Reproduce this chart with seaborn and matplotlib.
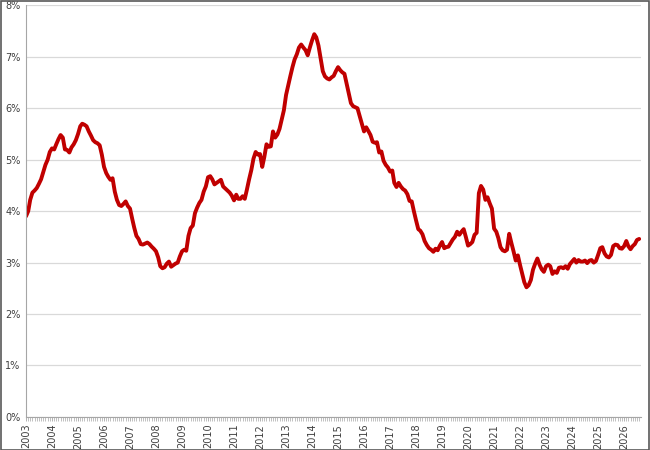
"""Monthly rate, 2003 - 2026, drawn as one thick red line."""

import pandas as pd
import matplotlib
matplotlib.use("Agg")
import matplotlib.pyplot as plt
import matplotlib.dates as mdates
from matplotlib.ticker import FuncFormatter, MultipleLocator
import seaborn as sns

# Monthly values (%)
v2003 = [3.90, 4.00, 4.22, 4.36, 4.40, 4.45, 4.53, 4.62, 4.76, 4.90, 5.00, 5.15]
v2004 = [5.22, 5.20, 5.30, 5.40, 5.48, 5.43, 5.20, 5.19, 5.14, 5.24, 5.30, 5.38]
v2005 = [5.50, 5.65, 5.70, 5.68, 5.65, 5.55, 5.47, 5.38, 5.34, 5.32, 5.28, 5.10]
v2006 = [4.86, 4.74, 4.67, 4.61, 4.64, 4.38, 4.22, 4.12, 4.10, 4.14, 4.19, 4.10]
v2007 = [4.05, 3.85, 3.68, 3.52, 3.46, 3.36, 3.35, 3.37, 3.39, 3.36, 3.31, 3.27]
v2008 = [3.22, 3.10, 2.93, 2.89, 2.91, 2.98, 3.02, 2.92, 2.95, 2.98, 3.00, 3.12]
v2009 = [3.22, 3.25, 3.23, 3.52, 3.67, 3.72, 3.96, 4.07, 4.16, 4.22, 4.38, 4.48]
v2010 = [4.66, 4.68, 4.62, 4.52, 4.55, 4.58, 4.61, 4.48, 4.44, 4.40, 4.36, 4.30]
v2011 = [4.21, 4.32, 4.24, 4.24, 4.29, 4.24, 4.42, 4.62, 4.80, 5.02, 5.15, 5.10]
v2012 = [5.11, 4.86, 5.05, 5.30, 5.25, 5.26, 5.55, 5.43, 5.49, 5.60, 5.78, 5.96]
v2013 = [6.26, 6.45, 6.62, 6.80, 6.95, 7.05, 7.18, 7.24, 7.18, 7.13, 7.03, 7.18]
v2014 = [7.32, 7.44, 7.38, 7.22, 6.98, 6.72, 6.62, 6.58, 6.56, 6.60, 6.63, 6.72]
v2015 = [6.80, 6.74, 6.70, 6.67, 6.48, 6.28, 6.10, 6.04, 6.02, 6.00, 5.85, 5.70]
v2016 = [5.55, 5.63, 5.56, 5.48, 5.35, 5.33, 5.34, 5.14, 5.16, 4.98, 4.90, 4.85]
v2017 = [4.77, 4.79, 4.55, 4.47, 4.55, 4.48, 4.43, 4.40, 4.33, 4.20, 4.19, 4.00]
v2018 = [3.82, 3.65, 3.62, 3.55, 3.42, 3.34, 3.28, 3.25, 3.21, 3.27, 3.24, 3.33]
v2019 = [3.40, 3.28, 3.30, 3.31, 3.38, 3.45, 3.50, 3.60, 3.54, 3.60, 3.65, 3.50]
v2020 = [3.33, 3.36, 3.40, 3.54, 3.58, 4.35, 4.49, 4.42, 4.22, 4.27, 4.15, 4.05]
v2021 = [3.66, 3.60, 3.48, 3.30, 3.24, 3.22, 3.25, 3.56, 3.38, 3.22, 3.04, 3.14]
v2022 = [2.95, 2.78, 2.62, 2.52, 2.56, 2.66, 2.86, 2.98, 3.08, 2.96, 2.87, 2.82]
v2023 = [2.93, 2.96, 2.93, 2.78, 2.83, 2.80, 2.90, 2.91, 2.89, 2.93, 2.88, 2.97]
v2024 = [3.02, 3.07, 3.00, 3.05, 3.02, 3.02, 3.04, 2.99, 3.04, 3.05, 3.00, 3.03]
v2025 = [3.15, 3.28, 3.30, 3.18, 3.12, 3.10, 3.15, 3.32, 3.35, 3.34, 3.28, 3.27]
v2026 = [3.32, 3.42, 3.32, 3.26, 3.32, 3.36, 3.44, 3.46]

values = (v2003 + v2004 + v2005 + v2006 + v2007 + v2008 + v2009 + v2010
          + v2011 + v2012 + v2013 + v2014 + v2015 + v2016 + v2017 + v2018
          + v2019 + v2020 + v2021 + v2022 + v2023 + v2024 + v2025 + v2026)

df = pd.DataFrame({
    "month": pd.date_range("2003-01-01", periods=len(values), freq="MS"),
    "rate": values,
})

sns.set_style("white")

fig = plt.figure(figsize=(6.5, 4.5), dpi=100)
ax = fig.add_axes([0.04, 0.0735, 0.946, 0.9145])

sns.lineplot(data=df, x="month", y="rate", ax=ax, color="#C00000", linewidth=2.8)

# Axes styling
ax.set_ylim(0, 8)
ax.set_xlim(pd.Timestamp("2003-01-01"), pd.Timestamp("2026-08-25"))
ax.yaxis.set_major_locator(MultipleLocator(1))
ax.yaxis.set_major_formatter(FuncFormatter(lambda v, _: f"{int(v)}%"))
ax.grid(axis="y", color="#d9d9d9", linewidth=0.9)
ax.set_axisbelow(True)

ax.xaxis.set_major_locator(mdates.YearLocator())
ax.xaxis.set_major_formatter(mdates.DateFormatter("%Y"))
ax.xaxis.set_minor_locator(mdates.MonthLocator())
ax.tick_params(axis="x", which="major", rotation=90, labelsize=7, colors="#404040",
               length=3, width=0.6, pad=2, direction="out", bottom=True)
ax.tick_params(axis="x", which="minor", length=3, width=0.5, color="#a6a6a6",
               direction="out", bottom=True)
ax.tick_params(axis="x", which="major", color="#a6a6a6")
ax.tick_params(axis="y", labelsize=7, colors="#404040", length=0, pad=4)

ax.set_xlabel("")
ax.set_ylabel("")

for side in ["top", "right"]:
    ax.spines[side].set_visible(False)
for side in ["left", "bottom"]:
    ax.spines[side].set_color("#a6a6a6")
    ax.spines[side].set_linewidth(0.8)

# Thin dark frame round the whole picture
fig.patches.append(plt.Rectangle((0.001, 0.001), 0.998, 0.997, transform=fig.transFigure,
                                 fill=False, edgecolor="#595959", linewidth=1.2))

plt.savefig("out.png", dpi=100)
